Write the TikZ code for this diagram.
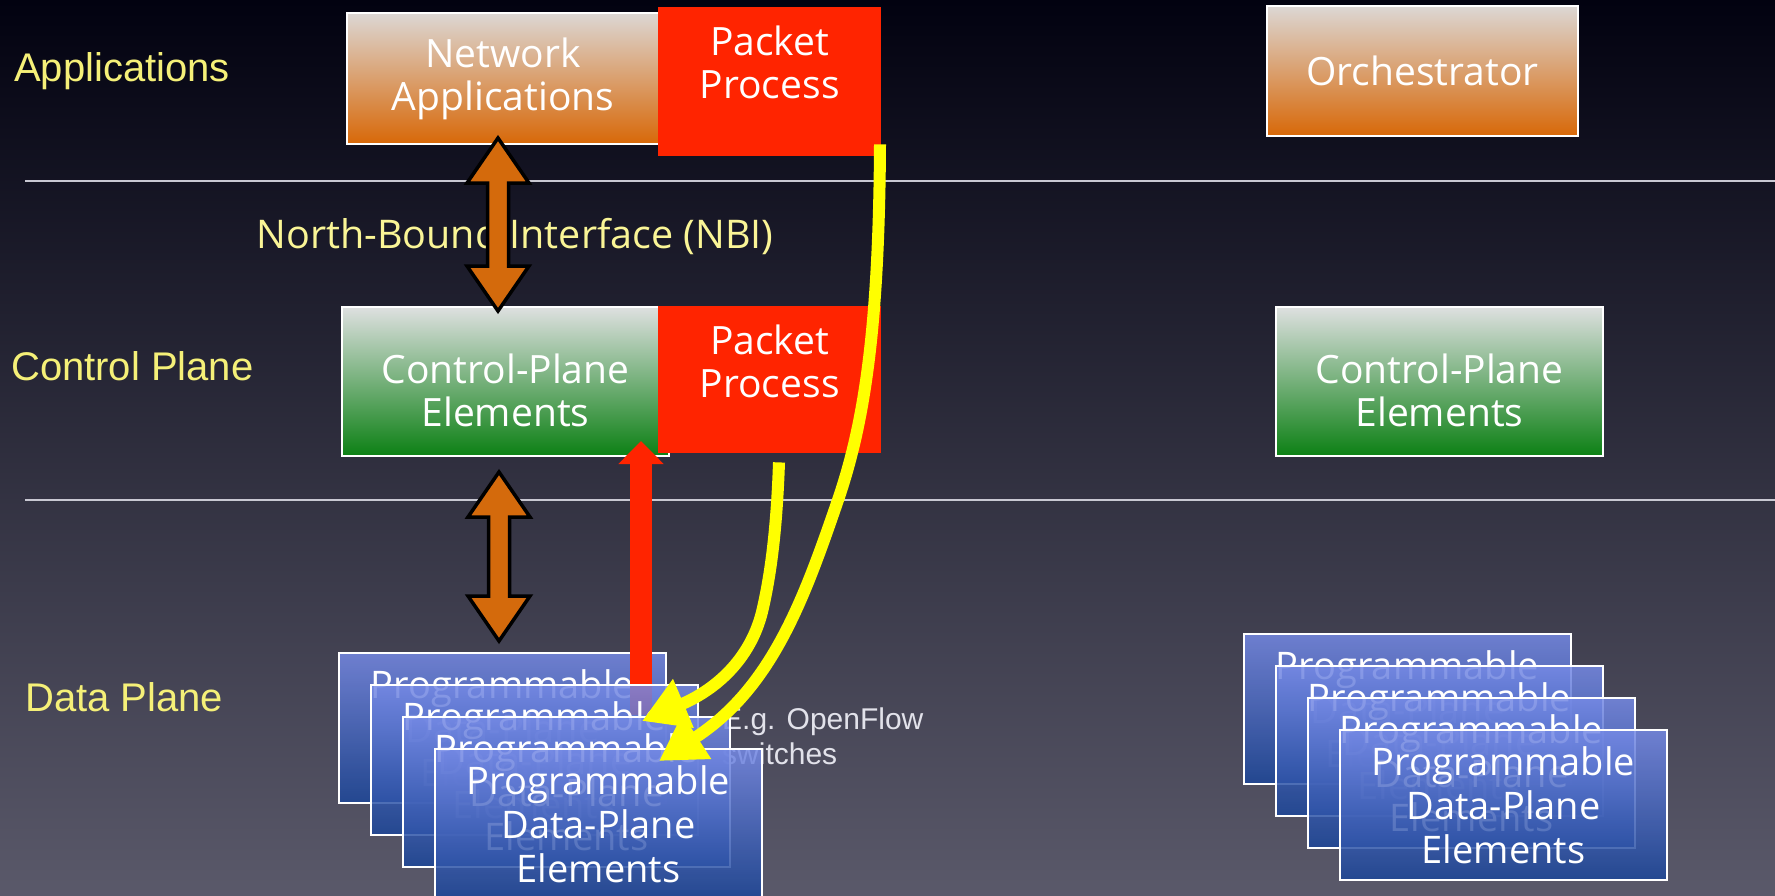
\documentclass[tikz,border=0pt]{standalone}
\usepackage{fontspec}
\newfontfamily\boxfont{Open Sans}
\newfontfamily\labfont{Liberation Sans}
\usetikzlibrary{arrows.meta,calc}

\definecolor{bgTop}{RGB}{2,2,16}
\definecolor{bgMid}{RGB}{40,34,74}
\definecolor{bgBot}{RGB}{90,89,106}
\definecolor{ruleGray}{RGB}{200,200,210}
\definecolor{labYellow}{RGB}{245,240,120}
\definecolor{nbiYellow}{RGB}{250,245,150}
\definecolor{appTop}{RGB}{220,215,212}
\definecolor{appBot}{RGB}{216,104,8}
\definecolor{cpTop}{RGB}{222,224,224}
\definecolor{cpBot}{RGB}{12,128,20}
\definecolor{dpTop}{RGB}{118,138,230}
\definecolor{dpBot}{RGB}{28,70,152}
\definecolor{pktRed}{RGB}{255,36,0}
\definecolor{ifOrange}{RGB}{212,106,12}
\definecolor{flowYellow}{RGB}{255,255,0}
\definecolor{noteGray}{RGB}{226,226,234}

% fat vertical double arrow between a top tip and a bottom tip
\newcommand\drawifarrow[2]{%
  \draw[ifarrow] (#1) -- ++(31,45) -- ++(-20.5,0) -- ($(#2)+(10.5,-45)$)
    -- ++(20.5,0) -- (#2) -- ++(-31,-45) -- ++(20.5,0)
    -- ($(#1)+(-10.5,45)$) -- ++(-20.5,0) -- cycle;}

\begin{document}
\begin{tikzpicture}[x=1pt,y=-1pt,
  planebox/.style={draw=white, line width=2pt, inner sep=0pt, anchor=north west,
    align=center, text=white, font=\boxfont\fontsize{39}{43}\selectfont},
  appbox/.style={planebox, top color=appTop, bottom color=appBot},
  ctlbox/.style={planebox, top color=cpTop, bottom color=cpBot,
    minimum width=327pt, minimum height=149pt},
  databox/.style={planebox, top color=dpTop, bottom color=dpBot,
    fill opacity=0.85, text opacity=1, minimum width=327pt, minimum height=150pt,
    font=\boxfont\fontsize{38}{44}\selectfont},
  pktbox/.style={fill=pktRed, inner sep=0pt, anchor=north west, minimum width=223pt},
  boxtext/.style={text=white, align=center, inner sep=0pt,
    font=\boxfont\fontsize{39}{43}\selectfont},
  layer/.style={text=labYellow, anchor=west, inner sep=0pt,
    font=\labfont\fontsize{40}{46}\selectfont},
  nbilabel/.style={text=nbiYellow, inner sep=0pt, font=\boxfont\fontsize{39.5}{43}\selectfont},
  note/.style={text=noteGray, anchor=west, align=left, inner sep=0pt,
    font=\labfont\fontsize{30}{35}\selectfont},
  ruleline/.style={draw=ruleGray, line width=1.5pt},
  ifarrow/.style={draw=black, line width=3.5pt, fill=ifOrange, line join=miter},
  ctlarrow/.style={draw=pktRed, line width=22pt, -{Triangle[length=23pt,width=44pt]}},
  flow/.style={draw=flowYellow, line width=12pt, -{Triangle[length=45pt,width=50pt]}}
]
\useasboundingbox (0,0) rectangle (1775,895);
\shade[top color=bgTop, middle color=bgMid, bottom color=bgBot] (0,0) rectangle (1775,895);

% layer separators
\draw[ruleline] (25,181) -- (1775,181);
\draw[ruleline] (25,500) -- (1775,500);

% layer names
\node[layer] (labApp) at (14,71) {Applications};
\node[layer] (labCtl) at (11,366) {Control Plane};
\node[layer] (labData) at (25,697) {Data Plane};
\node[nbilabel] (nbi) at (515,237) {North-Bound Interface (NBI)};

% application layer
\node[appbox, minimum width=312pt, minimum height=131pt] (na) at (346,12) {Network\\Applications};
\node[pktbox, minimum height=149pt] (pp1) at (658,7) {};
\node[boxtext] (pp1t) at ($(pp1.north)+(0,55)$) {Packet\\Process};
\node[appbox, minimum width=311pt, minimum height=130pt] (orch) at (1266,5) {Orchestrator};

% control plane
\node[ctlbox] (cpl) at (341,306) {};
\node[boxtext] (cplt) at ($(cpl.center)+(0,9)$) {Control-Plane\\Elements};
\node[pktbox, minimum height=147pt] (pp2) at (658,306) {};
\node[boxtext] (pp2t) at ($(pp2.north)+(0,55)$) {Packet\\Process};
\node[ctlbox] (cpr) at (1275,306) {};
\node[boxtext] (cprt) at ($(cpr.center)+(0,9)$) {Control-Plane\\Elements};

% data plane
\node[note] (eg) at (722,736) {E.g. OpenFlow\\switches};

\node[databox] (dpl1) at (338,652) {Programmable\\Data-Plane\\Elements};
\coordinate (ctlSrc) at ($(dpl1.north west)+(303,63)$);
\coordinate (ctlDst) at ($(cpl.south west)+(300,-16)$);
\draw[ctlarrow] (ctlSrc) -- (ctlDst);
\node[databox] (dpl2) at (370,684) {Programmable\\Data-Plane\\Elements};
\node[databox] (dpl3) at (402,716) {Programmable\\Data-Plane\\Elements};
\node[databox] (dpl4) at (434,748) {Programmable\\Data-Plane\\Elements};

\node[databox] (dpr1) at (1243,633) {Programmable\\Data-Plane\\Elements};
\node[databox] (dpr2) at (1275,665) {Programmable\\Data-Plane\\Elements};
\node[databox] (dpr3) at (1307,697) {Programmable\\Data-Plane\\Elements};
\node[databox] (dpr4) at (1339,729) {Programmable\\Data-Plane\\Elements};

% interfaces between layers
\coordinate (nbiTop) at ($(na.south west)+(152,-7)$);
\coordinate (nbiBot) at ($(cpl.north west)+(157,5)$);
\drawifarrow{nbiTop}{nbiBot}
\coordinate (sbiTop) at ($(cpl.south west)+(158,15)$);
\coordinate (sbiBot) at ($(dpl1.north west)+(161,-11)$);
\drawifarrow{sbiTop}{sbiBot}

% packet flows down to the switches
\coordinate (fa) at ($(pp2.south west)+(121,9)$);
\coordinate (faMid) at (762,612);
\coordinate (faEnd) at ($(dpl2.north west)+(272,37)$);
\draw[flow] (fa) .. controls +(-2,58) and +(10,-42) .. (faMid)
  .. controls +(-12,48) and +(73,-31) .. (faEnd);

\coordinate (fb) at ($(pp1.south west)+(222,-12)$);
\coordinate (fbMid) at (838,500);
\coordinate (fbEnd) at ($(dpl4.north west)+(225,13)$);
\draw[flow] (fb) .. controls +(-1,186) and +(26,-76) .. (fbMid)
  .. controls +(-34,99) and +(113,-73) .. (fbEnd);
\end{tikzpicture}
\end{document}
